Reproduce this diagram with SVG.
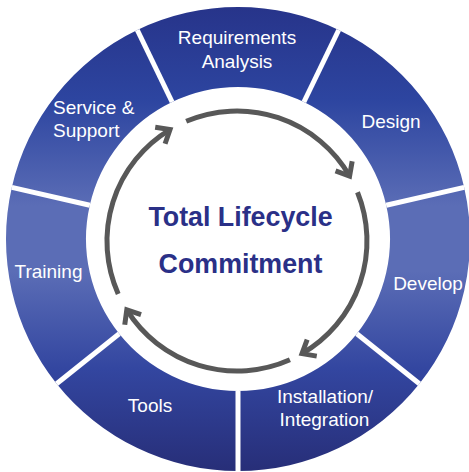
<svg xmlns="http://www.w3.org/2000/svg" width="469" height="472" viewBox="0 0 469 472">
  <defs>
    <linearGradient id="ringGrad" gradientUnits="userSpaceOnUse" x1="0" y1="7" x2="0" y2="471">
      <stop offset="0" stop-color="#27348a"/>
      <stop offset="0.2" stop-color="#2d45a0"/>
      <stop offset="0.43" stop-color="#5b6db6"/>
      <stop offset="0.57" stop-color="#5b6db6"/>
      <stop offset="0.78" stop-color="#3346a0"/>
      <stop offset="1" stop-color="#272e78"/>
    </linearGradient>
    <marker id="ah" markerUnits="userSpaceOnUse" markerWidth="30" markerHeight="30" viewBox="-15 -15 30 30" refX="0" refY="0" orient="auto" overflow="visible">
      <path d="M-11.5,-9.6 L0,0 L-11.5,9.6" fill="none" stroke="#585858" stroke-width="5" stroke-linejoin="miter"/>
    </marker>
    <style>
      .seg { fill: url(#ringGrad); }
      .lbl { font-family: "Liberation Sans", Arial, sans-serif; font-size: 19px; fill: #ffffff; text-anchor: middle; }
      .ctr { font-family: "Liberation Sans", Arial, sans-serif; font-size: 26.8px; font-weight: bold; fill: #2a3087; text-anchor: middle; }
      .div { stroke: #ffffff; stroke-width: 5; }
      .arc { fill: none; stroke: #585858; stroke-width: 5; stroke-linecap: butt; marker-end: url(#ah); }
    </style>
  </defs>
  <rect x="0" y="0" width="469" height="472" fill="#ffffff"/>

  <g id="requirements-analysis">
    <path class="seg" d="M137.3,30.0 A232,232 0 0 1 338.7,30.0 L303.9,102.0 A152,152 0 0 0 172.1,102.0 Z"/>
    <text class="lbl" x="237" y="44">Requirements</text>
    <text class="lbl" x="237" y="67.5">Analysis</text>
  </g>
  <g id="design">
    <path class="seg" d="M338.7,30.0 A232,232 0 0 1 464.2,187.4 L386.2,205.2 A152,152 0 0 0 303.9,102.0 Z"/>
    <text class="lbl" x="391" y="128">Design</text>
  </g>
  <g id="develop">
    <path class="seg" d="M464.2,187.4 A232,232 0 0 1 419.4,383.7 L356.8,333.8 A152,152 0 0 0 386.2,205.2 Z"/>
    <text class="lbl" x="428" y="290">Develop</text>
  </g>
  <g id="installation-integration">
    <path class="seg" d="M419.4,383.7 A232,232 0 0 1 238,471 L238,391 A152,152 0 0 0 356.8,333.8 Z"/>
    <text class="lbl" x="325" y="403">Installation/</text>
    <text class="lbl" x="324.5" y="426">Integration</text>
  </g>
  <g id="tools">
    <path class="seg" d="M238,471 A232,232 0 0 1 56.6,383.7 L119.2,333.8 A152,152 0 0 0 238,391 Z"/>
    <text class="lbl" x="150" y="412">Tools</text>
  </g>
  <g id="training">
    <path class="seg" d="M56.6,383.7 A232,232 0 0 1 11.8,187.4 L89.8,205.2 A152,152 0 0 0 119.2,333.8 Z"/>
    <text class="lbl" x="48.5" y="278">Training</text>
  </g>
  <g id="service-support">
    <path class="seg" d="M11.8,187.4 A232,232 0 0 1 137.3,30.0 L172.1,102.0 A152,152 0 0 0 89.8,205.2 Z"/>
    <text class="lbl" x="53" y="114" style="text-anchor:start">Service &amp;</text>
    <text class="lbl" x="53" y="136.5" style="text-anchor:start">Support</text>
  </g>

  <g id="dividers">
    <line class="div" x1="303.9" y1="102.0" x2="338.7" y2="30.0"/>
    <line class="div" x1="386.2" y1="205.2" x2="464.2" y2="187.4"/>
    <line class="div" x1="356.8" y1="333.8" x2="419.4" y2="383.7"/>
    <line class="div" x1="238" y1="391" x2="238" y2="472"/>
    <line class="div" x1="119.2" y1="333.8" x2="56.6" y2="383.7"/>
    <line class="div" x1="89.8" y1="205.2" x2="11.8" y2="187.4"/>
    <line class="div" x1="172.1" y1="102.0" x2="137.3" y2="30.0"/>
  </g>

  <g id="center">
    <text class="ctr" x="240.5" y="226">Total Lifecycle</text>
    <text class="ctr" x="240.5" y="272.5">Commitment</text>
  </g>

  <g id="connectors">
    <path class="arc" d="M186.2,121.3 A130,130 0 0 1 349.6,176"/>
    <path class="arc" d="M357.5,192.3 A130,130 0 0 1 302,353.6"/>
    <path class="arc" d="M289.9,359.8 A130,130 0 0 1 126.8,309.9"/>
    <path class="arc" d="M118.2,293.9 A130,130 0 0 1 170.0,129.6"/>
  </g>
</svg>
